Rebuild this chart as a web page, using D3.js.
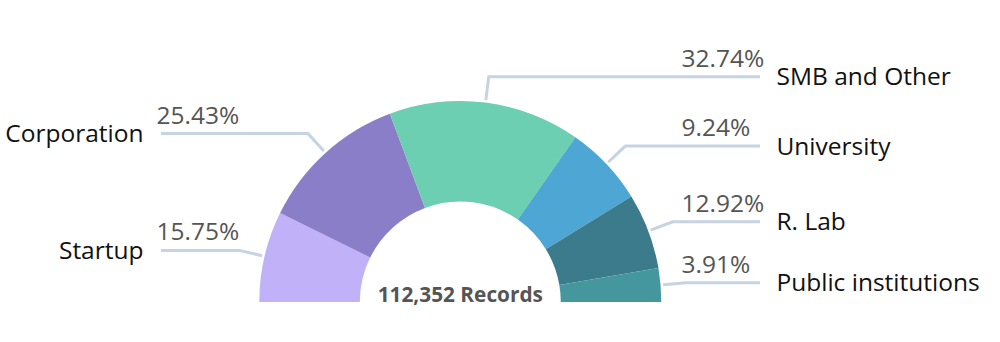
<!DOCTYPE html>
<html>
<head>
<meta charset="utf-8">
<script src="https://cdn.jsdelivr.net/npm/d3@7"></script>
<style>
  html, body { margin: 0; padding: 0; background: #fff; }
  svg { display: block; font-family: "Open Sans", sans-serif; }
</style>
</head>
<body>
<svg id="chart" width="1000" height="342"></svg>
<script>
// Categories in drawing order (left to right along the half ring)
const categories = ["Startup", "Corporation", "SMB and Other", "University", "R. Lab", "Public institutions"];
// Percent labels as printed in the chart
const percentLabels = [15.75, 25.43, 32.74, 9.24, 12.92, 3.91];
// Share of the half ring each slice occupies
const sliceShares = [14.6, 24.0, 30.8, 13.0, 12.2, 5.4];
const colors = ["#c1b1f9", "#8a7ec8", "#6dcfb1", "#4da6d3", "#3c7b8b", "#44979c"];
const totalRecords = 112352;

const W = 1000, H = 342;
const cx = 460.3, cy = 302;
const outerR = 201, innerR = 100.5;
const leadStartR = 203.5, elbowR = 227;
const leftLineEnd = 161, rightLineEnd = 760;

const svg = d3.select("#chart");
const g = svg.append("g").attr("transform", `translate(${cx},${cy})`);

const data = categories.map((c, i) => ({ cat: c, pct: percentLabels[i], share: sliceShares[i], color: colors[i] }));

const pie = d3.pie().sort(null).value(d => d.share)
  .startAngle(-Math.PI / 2).endAngle(Math.PI / 2);
const arcs = pie(data);
const arcGen = d3.arc().innerRadius(innerR).outerRadius(outerR);

g.selectAll("path.slice").data(arcs).join("path")
  .attr("class", "slice")
  .attr("d", arcGen)
  .attr("fill", d => d.data.color);

const pt = (a, r) => [Math.sin(a) * r, -Math.cos(a) * r];
const mid = d => (d.startAngle + d.endAngle) / 2;

// leader lines
g.selectAll("polyline.lead").data(arcs).join("polyline")
  .attr("class", "lead")
  .attr("fill", "none")
  .attr("stroke", "#c5d3e2")
  .attr("stroke-width", 3)
  .attr("points", d => {
    const a = mid(d);
    const p0 = pt(a, leadStartR), p1 = pt(a, elbowR);
    const xEnd = (a < 0 ? leftLineEnd : rightLineEnd) - cx;
    return [p0, p1, [xEnd, p1[1]]].map(p => p.join(",")).join(" ");
  });

const fmtPct = d3.format(".2f");
// percent values
g.selectAll("text.pct").data(arcs).join("text")
  .attr("class", "pct")
  .attr("x", d => (mid(d) < 0 ? 156.5 : 681.5) - cx)
  .attr("y", d => pt(mid(d), elbowR)[1] - 10)
  .attr("text-anchor", "start")
  .attr("font-size", 24.5)
  .attr("fill", "#555")
  .text(d => fmtPct(d.data.pct) + "%");

// category labels
g.selectAll("text.cat").data(arcs).join("text")
  .attr("class", "cat")
  .attr("x", d => (mid(d) < 0 ? 143.5 : 776.5) - cx)
  .attr("y", d => pt(mid(d), elbowR)[1] + 8.5)
  .attr("text-anchor", d => mid(d) < 0 ? "end" : "start")
  .attr("font-size", 24.5)
  .attr("fill", "#111")
  .text(d => d.data.cat);

// center total
g.append("text")
  .attr("x", 0).attr("y", -0.5)
  .attr("text-anchor", "middle")
  .attr("font-size", 20.8)
  .attr("font-weight", "bold")
  .attr("fill", "#555")
  .text(d3.format(",")(totalRecords) + " Records");
</script>
</body>
</html>
